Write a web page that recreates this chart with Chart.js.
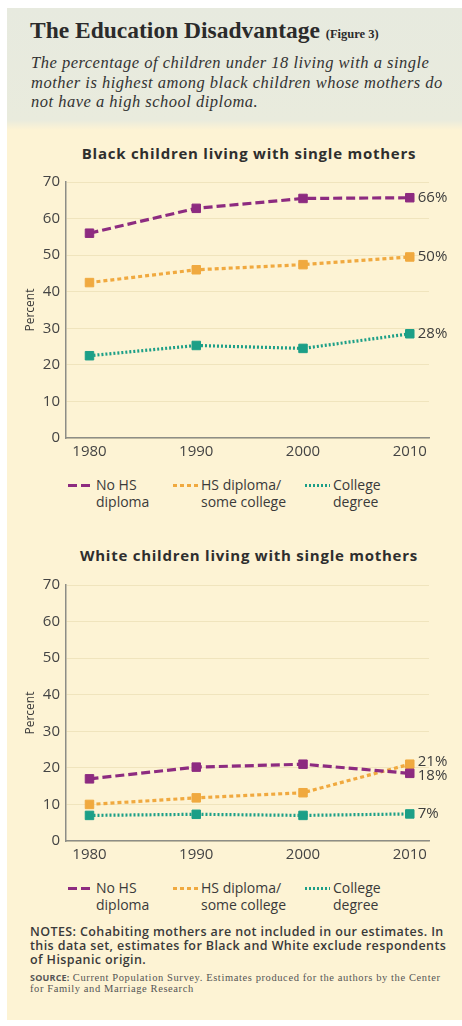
<!DOCTYPE html>
<html>
<head>
<meta charset="utf-8">
<script src="https://cdn.jsdelivr.net/npm/chart.js@4"></script>
<style>
  html, body { margin: 0; padding: 0; background: #fff; }
  body { width: 462px; height: 1026px; position: relative; overflow: hidden; font-family: "Open Sans", sans-serif; }
  #panel { position: absolute; left: 7px; top: 8px; width: 455px; height: 1012px; background: #fdf3d4; }
  #head { position: absolute; left: 0; top: 0; width: 455px; height: 122px;
          background: linear-gradient(to bottom, #e7eadf 0, #e9ebdd 112px, #fdf3d4 122px); }
  .title { position: absolute; left: 23px; top: 9px; font-family: "Liberation Serif", serif; font-weight: bold;
           font-size: 23.5px; color: #2b2b2b; white-space: nowrap; }
  .title small { font-size: 12.5px; }
  .sub { position: absolute; left: 24px; top: 45px; font-family: "Liberation Serif", serif; font-style: italic;
         font-size: 16.5px; line-height: 19.5px; letter-spacing: 0.5px; color: #333; white-space: nowrap; }
  .ctitle { position: absolute; left: 0; width: 484px; text-align: center; font-weight: bold; font-size: 15px;
            letter-spacing: 0.75px; color: #2e2e2e; }
  .box { position: absolute; left: 0; }
  .legend { position: absolute; left: 0; width: 455px; height: 40px; }
  .item { position: absolute; top: 0; font-size: 14px; line-height: 16.5px; color: #3a3a3a; }
  .item .swatch { position: absolute; top: 7px; height: 3px; }
  .notes { position: absolute; left: 23px; top: 917px; font-size: 12.5px; line-height: 14.2px; font-weight: 600;
           letter-spacing: 0.4px; color: #3a3a3a; white-space: nowrap; }
  .source { position: absolute; left: 23px; top: 964px; font-family: "Liberation Serif", serif; font-size: 10.5px;
            line-height: 11px; letter-spacing: 0.6px; color: #555; white-space: nowrap; }
  .source b { font-family: "Open Sans", sans-serif; font-size: 9px; letter-spacing: 0.2px; }
</style>
</head>
<body>
<div id="panel">
  <div id="head">
    <div class="title">The Education Disadvantage <small>(Figure 3)</small></div>
    <div class="sub">The percentage of children under 18 living with a single<br>mother is highest among black children whose mothers do<br>not have a high school diploma.</div>
  </div>
  <div class="ctitle" style="top:135px">Black children living with single mothers</div>
  <div class="box" style="top:159px"><canvas id="black" width="455" height="297"></canvas></div>
  <div class="legend" id="legend1" style="top:469px"></div>
  <div class="ctitle" style="top:537px">White children living with single mothers</div>
  <div class="box" style="top:562px"><canvas id="white" width="455" height="297"></canvas></div>
  <div class="legend" id="legend2" style="top:872px"></div>
  <div class="notes">NOTES: Cohabiting mothers are not included in our estimates. In<br>this data set, estimates for Black and White exclude respondents<br>of Hispanic origin.</div>
  <div class="source"><b>SOURCE:</b> Current Population Survey. Estimates produced for the authors by the Center<br>for Family and Marriage Research</div>
</div>
<script>
const years = [1980, 1990, 2000, 2010];
const seriesNames = ['No HS diploma', 'HS diploma/ some college', 'College degree'];
const legendLines = [['No HS', 'diploma'], ['HS diploma/', 'some college'], ['College', 'degree']];

const blackNoHS = [56, 62.8, 65.5, 65.7];
const blackHS = [42.5, 46, 47.4, 49.5];
const blackCollege = [22.5, 25.3, 24.5, 28.5];
const blackEndLabels = ['66%', '50%', '28%'];

const whiteNoHS = [17, 20.2, 21, 18.5];
const whiteHS = [10, 11.8, 13.2, 21];
const whiteCollege = [7, 7.3, 7, 7.4];
const whiteEndLabels = ['18%', '21%', '7%'];

const yMin = 0, yMax = 70, yStep = 10;

const colors = ['#8d2b80', '#f0a93f', '#1c9f87'];
const dashes = [[9, 4], [4, 3], [2, 2]];

// writes the % value after the last point of each line
const endLabelPlugin = {
  id: 'endLabels',
  afterDatasetsDraw(chart, args, opts) {
    const ctx = chart.ctx;
    ctx.save();
    ctx.font = '15px "Open Sans"';
    ctx.fillStyle = '#3d3d3d';
    ctx.textBaseline = 'middle';
    chart.data.datasets.forEach((ds, i) => {
      const pts = chart.getDatasetMeta(i).data;
      const p = pts[pts.length - 1];
      ctx.fillText(opts.labels[i], p.x + 8, p.y + (opts.nudge ? opts.nudge[i] : 0));
    });
    ctx.restore();
  }
};

function makeChart(id, seriesList, endLabels, nudge) {
  const datasets = seriesList.map((vals, i) => ({
    label: seriesNames[i],
    data: vals.map((v, j) => ({ x: years[j], y: v })),
    borderColor: colors[i],
    backgroundColor: colors[i],
    borderWidth: 3.2,
    borderDash: dashes[i],
    pointStyle: 'rect',
    pointRadius: 6,
    pointBorderWidth: 1,
    pointBorderColor: colors[i],
    pointBackgroundColor: colors[i],
    tension: 0
  }));
  return new Chart(document.getElementById(id), {
    type: 'line',
    data: { datasets },
    plugins: [endLabelPlugin],
    options: {
      responsive: false,
      animation: false,
      layout: { padding: { top: 12, right: 33, left: 0, bottom: 0 } },
      plugins: {
        legend: { display: false },
        tooltip: { enabled: false },
        endLabels: { labels: endLabels, nudge: nudge }
      },
      scales: {
        x: {
          type: 'linear',
          min: 1977.8,
          max: 2011.8,
          afterBuildTicks: s => { s.ticks = years.map(v => ({ value: v })); },
          afterFit: s => { s.height = 26; },
          grid: { display: false, drawTicks: false },
          border: { display: true, color: '#8d8d86', width: 1.5 },
          ticks: { padding: 5, color: '#444', font: { family: 'Open Sans', size: 15 }, callback: v => String(v) }
        },
        y: {
          min: yMin,
          max: yMax,
          afterFit: s => { s.width = 59; },
          grid: { color: '#f0e4bd', lineWidth: 1, drawTicks: false },
          border: { display: true, color: '#8d8d86', width: 1.5 },
          ticks: { stepSize: yStep, padding: 6, color: '#444', font: { family: 'Open Sans', size: 15 } },
          title: { display: true, text: 'Percent', color: '#3a3a3a', font: { family: 'Open Sans', size: 12 }, padding: { top: 16, bottom: 0 } }
        }
      }
    }
  });
}

makeChart('black', [blackNoHS, blackHS, blackCollege], blackEndLabels, [0, 0, 0]);
makeChart('white', [whiteNoHS, whiteHS, whiteCollege], whiteEndLabels, [2, -2, 0]);

function makeLegend(id) {
  const el = document.getElementById(id);
  const lefts = [61, 166, 298];
  legendLines.forEach((lines, i) => {
    const item = document.createElement('div');
    item.className = 'item';
    item.style.left = (lefts[i] + 28) + 'px';
    item.innerHTML = lines.join('<br>');
    const sw = document.createElement('div');
    sw.className = 'swatch';
    sw.style.left = '-28px';
    sw.style.width = '25px';
    const [on, off] = dashes[i];
    sw.style.background = `repeating-linear-gradient(to right, ${colors[i]} 0 ${on}px, transparent ${on}px ${on + off}px)`;
    item.appendChild(sw);
    el.appendChild(item);
  });
}
makeLegend('legend1');
makeLegend('legend2');
</script>
</body>
</html>
